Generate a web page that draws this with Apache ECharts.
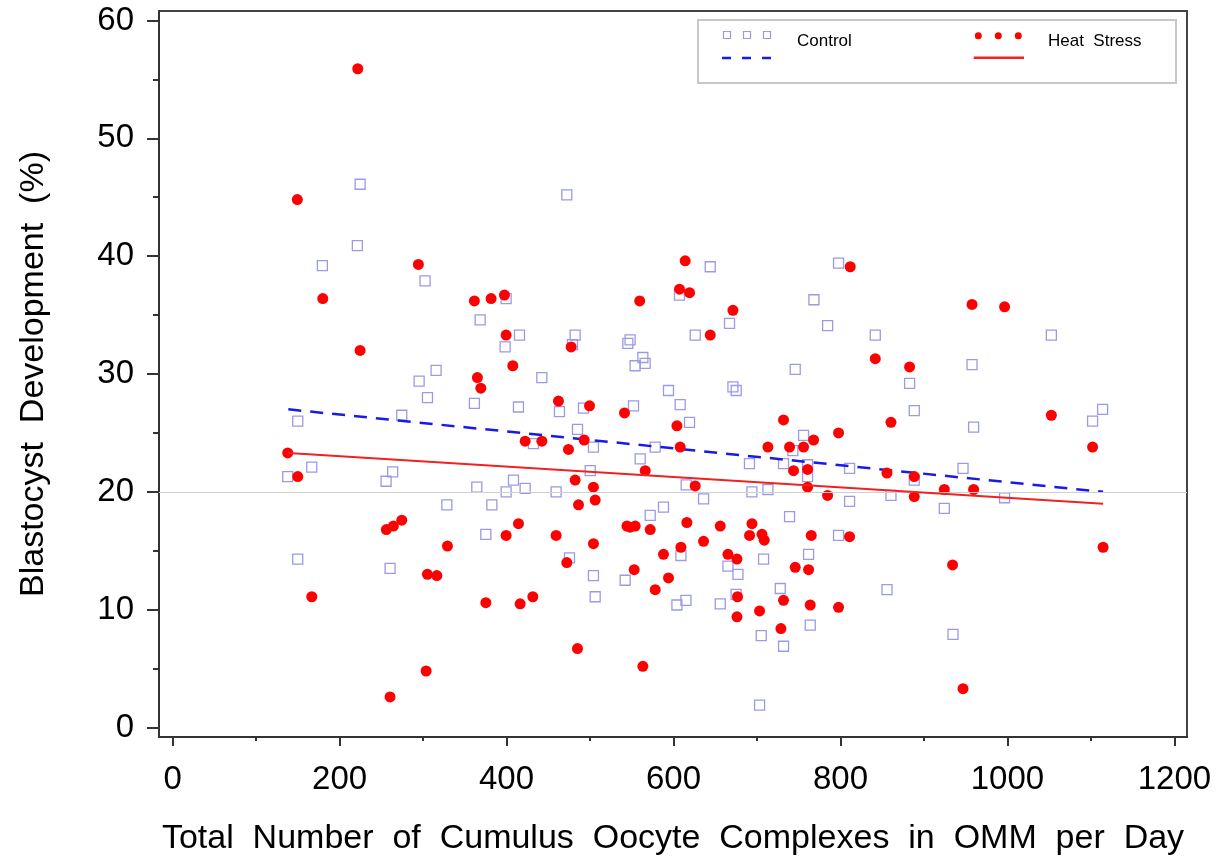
<!DOCTYPE html>
<html>
<head>
<meta charset="utf-8">
<script src="https://cdn.jsdelivr.net/npm/echarts@6/dist/echarts.min.js"></script>
<style>
  html, body { margin: 0; padding: 0; background: #fff; }
  #chart { width: 1223px; height: 863px; }
</style>
</head>
<body>
<div id="chart"></div>
<script>
// Control (x = COCs per day, y = blastocyst %)
var controlData = [
  [224.6,46.1],[221.3,40.9],[179.4,39.2],[302.4,37.9],[472.2,45.2],[644.0,39.1],[607.2,36.7],[399.5,36.4],[797.7,39.4],[768.2,36.3],
  [368.4,34.6],[315.6,30.3],[295.3,29.4],[305.3,28.0],[361.5,27.5],[274.5,26.5],[149.9,26.0],[166.7,22.1],[137.9,21.3],[263.6,21.7],
  [255.7,20.9],[364.4,20.4],[328.5,18.9],[382.4,18.9],[375.2,16.4],[149.9,14.3],[260.5,13.5],[667.1,34.3],[784.6,34.1],[841.7,33.3],
  [626.0,33.3],[415.5,33.3],[398.3,32.3],[482.2,33.3],[479.0,32.5],[442.3,29.7],[545.3,32.6],[548.0,32.9],[563.3,31.4],[566.0,30.9],
  [554.0,30.7],[745.8,30.4],[594.0,28.6],[671.2,28.9],[675.1,28.6],[414.3,27.2],[463.4,26.8],[492.2,27.1],[552.1,27.3],[608.0,27.4],
  [619.2,25.9],[485.0,25.3],[432.2,24.1],[504.1,23.8],[578.1,23.8],[560.1,22.8],[755.8,24.8],[743.0,23.5],[691.0,22.4],[731.8,22.4],
  [760.6,22.3],[760.6,21.3],[810.9,22.0],[810.9,19.2],[860.5,19.7],[500.2,21.8],[408.3,21.0],[422.3,20.3],[399.5,20.0],[459.4,20.0],
  [615.2,20.6],[636.0,19.4],[693.9,20.0],[713.1,20.2],[588.0,18.7],[572.1,18.0],[739.0,17.9],[797.7,16.3],[475.4,14.4],[608.9,14.6],
  [665.2,13.7],[677.2,13.0],[707.9,14.3],[761.8,14.7],[504.1,12.9],[542.1,12.5],[506.2,11.1],[604.1,10.4],[614.9,10.8],[656.0,10.5],
  [675.0,11.3],[705.1,7.8],[727.9,11.8],[731.8,6.9],[763.8,8.7],[855.7,11.7],[703.1,1.9],[1052.6,33.3],[957.6,30.8],[882.8,29.2],
  [888.4,26.9],[959.5,25.5],[1102.0,26.0],[1114.0,27.0],[946.8,22.0],[888.4,21.0],[924.4,18.6],[996.6,19.5],[934.8,7.9]
];

// Heat Stress
var heatData = [
  [221.8,55.9],[149.4,44.8],[179.9,36.4],[294.4,39.3],[614.0,39.6],[607.2,37.2],[619.2,36.9],[361.5,36.2],[381.5,36.4],[397.5,36.7],
  [559.5,36.2],[811.7,39.1],[957.6,35.9],[996.6,35.7],[224.6,32.0],[365.1,29.7],[369.2,28.8],[137.9,23.3],[149.9,21.3],[274.5,17.6],
  [264.5,17.1],[256.0,16.8],[329.2,15.4],[305.2,13.0],[316.5,12.9],[166.7,11.1],[375.2,10.6],[303.7,4.8],[260.5,2.6],[671.2,35.4],
  [841.7,31.3],[644.0,33.3],[399.5,33.3],[477.4,32.3],[407.5,30.7],[462.2,27.7],[499.4,27.3],[541.3,26.7],[604.1,25.6],[422.3,24.3],
  [442.3,24.3],[493.0,24.4],[474.2,23.6],[608.0,23.8],[731.8,26.1],[767.8,24.4],[797.7,25.0],[860.5,25.9],[713.1,23.8],[739.0,23.8],
  [755.8,23.8],[743.8,21.8],[760.6,21.9],[760.6,20.4],[784.6,19.7],[855.7,21.6],[566.1,21.8],[482.2,21.0],[504.1,20.4],[506.2,19.3],
  [486.2,18.9],[626.0,20.5],[414.3,17.3],[544.2,17.1],[548.0,17.0],[554.1,17.1],[572.1,16.8],[616.0,17.4],[656.0,17.1],[694.0,17.3],
  [399.5,16.3],[459.4,16.3],[504.1,15.6],[691.1,16.3],[706.0,16.4],[708.7,15.9],[765.0,16.3],[810.9,16.2],[472.2,14.0],[608.9,15.3],
  [636.0,15.8],[588.0,14.7],[665.2,14.7],[676.0,14.3],[745.8,13.6],[761.8,13.4],[552.9,13.4],[594.0,12.7],[578.1,11.7],[416.3,10.5],
  [431.5,11.1],[676.7,11.1],[676.0,9.4],[703.1,9.9],[731.8,10.8],[728.7,8.4],[763.8,10.4],[797.7,10.2],[485.0,6.7],[563.3,5.2],
  [882.8,30.6],[1052.6,26.5],[1102.0,23.8],[888.4,21.3],[888.4,19.6],[924.4,20.2],[959.5,20.2],[1114.6,15.3],[934.3,13.8],[946.8,3.3]
];

// fitted regression lines (end points)
var controlFit = [[138.6, 27.0], [1114.6, 20.0]];
var heatFit = [[138.6, 23.3], [1114.6, 19.0]];

var refLineY = 20;

var xTicks = [0, 200, 400, 600, 800, 1000, 1200];
var xMinorTicks = [100, 300, 500, 700, 900, 1100];
var yTicks = [0, 10, 20, 30, 40, 50, 60];
var yMinorTicks = [5, 15, 25, 35, 45, 55];

var xRange = [-16.3, 1215.1];
var yRange = [-0.8, 60.8];

var FONT = 'Liberation Sans, Arial, sans-serif';
var axisColor = '#333';

var chart = echarts.init(document.getElementById('chart'));

function plain(v) { return String(Math.round(v)); }

var option = {
  animation: false,
  backgroundColor: '#fff',
  grid: {
    left: 159, right: 36, top: 11, bottom: 126,
    show: true, borderColor: '#444', borderWidth: 2, backgroundColor: 'transparent'
  },
  xAxis: [{
    type: 'value', min: xRange[0], max: xRange[1], position: 'bottom',
    name: 'Total  Number  of  Cumulus  Oocyte  Complexes  in  OMM  per  Day',
    nameLocation: 'middle', nameGap: 85,
    nameTextStyle: { fontFamily: FONT, fontSize: 34, color: '#000' },
    axisLine: { show: true, onZero: false, lineStyle: { color: axisColor, width: 2 } },
    axisTick: { show: true, length: 9, lineStyle: { color: axisColor, width: 2 }, customValues: xTicks },
    axisLabel: { fontFamily: FONT, fontSize: 33, color: '#000', margin: 26, customValues: xTicks, formatter: plain },
    splitLine: { show: false }
  }, {
    type: 'value', min: xRange[0], max: xRange[1], position: 'bottom', offset: 0,
    axisLine: { show: false, onZero: false },
    axisTick: { show: true, length: 4, lineStyle: { color: axisColor, width: 2 }, customValues: xMinorTicks },
    axisLabel: { show: false },
    splitLine: { show: false }
  }],
  yAxis: [{
    type: 'value', min: yRange[0], max: yRange[1], position: 'left',
    name: 'Blastocyst  Development  (%)',
    nameLocation: 'middle', nameGap: 108,
    nameTextStyle: { fontFamily: FONT, fontSize: 34, color: '#000' },
    axisLine: { show: true, onZero: false, lineStyle: { color: axisColor, width: 2 } },
    axisTick: { show: true, length: 12, lineStyle: { color: axisColor, width: 2 }, customValues: yTicks },
    axisLabel: { fontFamily: FONT, fontSize: 33, color: '#000', margin: 25, customValues: yTicks, formatter: plain },
    splitLine: { show: false }
  }, {
    type: 'value', min: yRange[0], max: yRange[1], position: 'left', offset: 0,
    axisLine: { show: false, onZero: false },
    axisTick: { show: true, length: 6, lineStyle: { color: axisColor, width: 2 }, customValues: yMinorTicks },
    axisLabel: { show: false },
    splitLine: { show: false }
  }],
  series: [{
    name: 'Control',
    type: 'scatter',
    data: controlData,
    symbol: 'rect',
    symbolSize: 10,
    itemStyle: { color: 'rgba(0,0,0,0)', borderColor: '#9a9ae6', borderWidth: 1.3, opacity: 1 },
    markLine: {
      silent: true, symbol: 'none',
      label: { show: false },
      lineStyle: { color: '#d0d0d0', width: 1, type: 'solid' },
      data: [{ yAxis: refLineY }]
    },
    z: 2
  }, {
    name: 'Control fit',
    type: 'line',
    data: controlFit,
    symbol: 'none',
    lineStyle: { color: '#1a1ae6', width: 2.5, type: [13, 9] },
    z: 3
  }, {
    name: 'Heat Stress',
    type: 'scatter',
    data: heatData,
    symbol: 'circle',
    symbolSize: 11,
    itemStyle: { color: '#ff0000', opacity: 1 },
    z: 4
  }, {
    name: 'Heat Stress fit',
    type: 'line',
    data: heatFit,
    symbol: 'none',
    lineStyle: { color: '#ee2222', width: 2 },
    z: 5
  }],
  // legend box drawn as in the original (symbols row + line row)
  graphic: [{
    type: 'group', z: 100,
    children: [
      { type: 'rect', shape: { x: 698, y: 20, width: 478, height: 63 },
        style: { fill: '#fff', stroke: '#c8c8c8', lineWidth: 2 } },
      { type: 'rect', shape: { x: 723.5, y: 31.5, width: 7, height: 7 },
        style: { fill: 'none', stroke: '#9a9ae6', lineWidth: 1.2 } },
      { type: 'rect', shape: { x: 743.5, y: 31.5, width: 7, height: 7 },
        style: { fill: 'none', stroke: '#9a9ae6', lineWidth: 1.2 } },
      { type: 'rect', shape: { x: 763.5, y: 31.5, width: 7, height: 7 },
        style: { fill: 'none', stroke: '#9a9ae6', lineWidth: 1.2 } },
      { type: 'line', shape: { x1: 722, y1: 58, x2: 772, y2: 58 },
        style: { stroke: '#1a1ae6', lineWidth: 2.5, lineDash: [9, 11] } },
      { type: 'text', x: 797, y: 41,
        style: { text: 'Control', fontFamily: FONT, fontSize: 17, fill: '#000', verticalAlign: 'middle' } },
      { type: 'circle', shape: { cx: 978.3, cy: 35.7, r: 3.5 }, style: { fill: '#ff0000' } },
      { type: 'circle', shape: { cx: 998.3, cy: 35.7, r: 3.5 }, style: { fill: '#ff0000' } },
      { type: 'circle', shape: { cx: 1018.3, cy: 35.7, r: 3.5 }, style: { fill: '#ff0000' } },
      { type: 'line', shape: { x1: 973.7, y1: 57.7, x2: 1024, y2: 57.7 },
        style: { stroke: '#ee2222', lineWidth: 2.5 } },
      { type: 'text', x: 1048, y: 41,
        style: { text: 'Heat  Stress', fontFamily: FONT, fontSize: 17, fill: '#000', verticalAlign: 'middle' } }
    ]
  }]
};

chart.setOption(option);
</script>
</body>
</html>
